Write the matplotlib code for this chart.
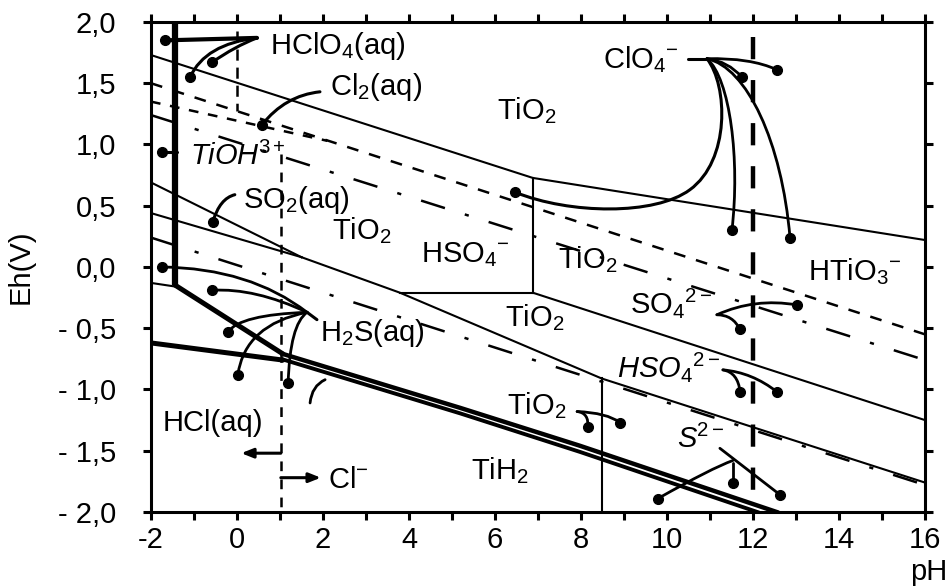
import matplotlib
matplotlib.use('Agg')
import matplotlib.pyplot as plt
from matplotlib.path import Path
from matplotlib.patches import PathPatch

plt.rcParams['font.family'] = ['Liberation Sans', 'DejaVu Sans']
plt.rcParams['mathtext.fontset'] = 'custom'
plt.rcParams['mathtext.rm'] = 'Liberation Sans'
plt.rcParams['mathtext.it'] = 'Liberation Sans:italic'
plt.rcParams['mathtext.bf'] = 'Liberation Sans:bold'
plt.rcParams['lines.scale_dashes'] = False

# ---------------- axes data ----------------
x_limits = (-2, 16)
y_limits = (-2, 2)
x_ticks = list(range(-2, 17))
x_tick_labels = ['-2', '', '0', '', '2', '', '4', '', '6', '', '8', '', '10', '', '12', '', '14', '', '16']
y_ticks = [2.0, 1.5, 1.0, 0.5, 0.0, -0.5, -1.0, -1.5, -2.0]
y_tick_labels = ['2,0', '1,5', '1,0', '0,5', '0,0', '- 0,5', '- 1,0', '- 1,5', '- 2,0']

# ---------------- solid boundaries (pH, Eh) ----------------
upper_x = [-2, 6.88, 16];            upper_y = [1.73, 0.727, 0.22]
hso4_vert_x = [6.88, 6.88];          hso4_vert_y = [0.727, -0.21]
hso4_horiz_x = [3.79, 6.88];         hso4_horiz_y = [-0.21, -0.21]
mid_x = [6.88, 16];                  mid_y = [-0.21, -1.25]
so2_a_x = [-2, 1.5];                 so2_a_y = [0.69, 0.08]
so2_b_x = [-2, 1.5];                 so2_b_y = [0.44, 0.08]
low_x = [1.5, 3.79, 8.48, 16];       low_y = [0.08, -0.21, -0.91, -1.76]
v85_x = [8.48, 8.48];                v85_y = [-0.91, -2.0]
box_x = [-2, -1.43];                 box_y = [-0.13, -0.16]

# thick boundaries
ti_vert_x = [-1.43, -1.43];          ti_vert_y = [2.0, -0.15]
ti_diag_x = [-1.43, 1.07];           ti_diag_y = [-0.15, -0.71]
ti_left_x = [-2, 1.07];              ti_left_y = [-0.62, -0.76]
dbl_up_x = [1.07, 5.19, 7.98, 12.55]; dbl_up_y = [-0.71, -1.15, -1.46, -2.0]
dbl_lo_x = [1.07, 5.19, 7.98, 12.1];  dbl_lo_y = [-0.755, -1.195, -1.51, -2.0]

# dashed lines
o2_x = [-2, 16];                     o2_y = [1.50, -0.55]
cl_x = [-2, 2.1];                    cl_y = [1.35, 1.03]
s_up_x = [-2, 16];                   s_up_y = [1.24, -0.76]
h2_x = [-2, 16];                     h2_y = [0.24, -1.78]
hclo4_x = [0.0, 0.0];                hclo4_y = [1.93, 1.27]
hcl_x = [1.02, 1.02];                hcl_y = [0.92, -2.0]
ph12_x = [12.0, 12.0];               ph12_y = [1.88, -2.0]

# labels: (text, x, y, ha, italic)
labels = [
    ('HClO$_4$(aq)', 0.77, 1.80, 'left', False),
    ('Cl$_2$(aq)', 2.16, 1.47, 'left', False),
    ('TiO$_2$', 6.74, 1.28, 'center', False),
    ('ClO$_4$$^{-}$', 8.51, 1.69, 'left', False),
    ('TiOH$^{3+}$', -1.09, 0.90, 'left', True),
    ('SO$_2$(aq)', 0.14, 0.55, 'left', False),
    ('TiO$_2$', 2.91, 0.30, 'center', False),
    ('HSO$_4$$^{-}$', 5.30, 0.10, 'center', False),
    ('TiO$_2$', 8.16, 0.06, 'center', False),
    ('HTiO$_3$$^{-}$', 14.37, -0.04, 'center', False),
    ('SO$_4$$^{2-}$', 9.14, -0.29, 'left', False),
    ('TiO$_2$', 6.93, -0.41, 'center', False),
    ('H$_2$S(aq)', 1.93, -0.54, 'left', False),
    ('HSO$_4$$^{2-}$', 8.84, -0.82, 'left', True),
    ('TiO$_2$', 6.98, -1.13, 'center', False),
    ('HCl(aq)', -1.74, -1.27, 'left', False),
    ('S$^{2-}$', 10.23, -1.41, 'left', True),
    ('Cl$^{-}$', 2.12, -1.74, 'left', False),
    ('TiH$_2$', 6.12, -1.66, 'center', False),
]

# leader curves: list of control points (2 = line, 3 = quadratic, 4/7 = cubic), dot at end
leaders = [
    ([(0.465, 1.87), (-1.67, 1.85)], True, 3.0),
    ([(0.465, 1.87), (-0.05, 1.80), (-0.58, 1.67)], True, 2.2),
    ([(0.465, 1.87), (-0.74, 1.82), (-1.09, 1.55)], True, 2.2),
    ([(1.93, 1.43), (1.12, 1.40), (0.58, 1.16)], True, 2.2),
    ([(-1.40, 0.94), (-1.74, 0.94)], True, 2.2),
    ([(-0.05, 0.59), (-0.40, 0.56), (-0.56, 0.37)], True, 2.2),
    ([(1.86, -0.43), (1.63, -0.37)], False, 2.2),
    ([(1.63, -0.37), (0.30, -0.01), (-1.74, 0.0)], True, 2.0),
    ([(1.63, -0.37), (0.42, -0.17), (-0.58, -0.19)], True, 2.0),
    ([(1.63, -0.37), (0.07, -0.39), (-0.21, -0.53)], True, 2.0),
    ([(1.63, -0.37), (0.19, -0.47), (0.02, -0.88)], True, 2.0),
    ([(1.63, -0.37), (1.23, -0.47), (1.19, -0.95)], True, 2.0),
    ([(2.05, -0.92), (1.74, -0.97), (1.70, -1.11)], False, 2.0),
    ([(7.91, -1.18), (8.19, -1.19), (8.16, -1.31)], True, 2.0),
    ([(7.91, -1.18), (8.60, -1.19), (8.91, -1.27)], True, 2.0),
    ([(10.49, 1.70), (10.93, 1.70)], False, 2.2),
    ([(10.93, 1.70), (11.93, 1.71), (12.56, 1.61)], True, 2.0),
    ([(10.93, 1.70), (11.42, 1.68), (11.74, 1.55)], True, 2.0),
    ([(10.93, 1.70), (11.42, 1.48), (11.47, 0.87), (10.53, 0.63),
      (9.72, 0.42), (7.74, 0.43), (6.47, 0.61)], True, 2.2),
    ([(10.93, 1.70), (11.47, 1.54), (11.70, 0.87), (11.51, 0.30)], True, 2.0),
    ([(10.93, 1.70), (11.86, 1.63), (12.67, 1.02), (12.86, 0.24)], True, 2.0),
    ([(11.16, -0.39), (12.05, -0.25), (13.02, -0.31)], True, 2.0),
    ([(11.16, -0.39), (11.53, -0.39), (11.70, -0.51)], True, 2.0),
    ([(11.30, -0.84), (11.65, -0.86), (11.70, -1.02)], True, 2.0),
    ([(11.30, -0.84), (11.98, -0.86), (12.56, -1.02)], True, 2.0),
    ([(11.23, -1.48), (12.63, -1.86)], True, 2.0),
    ([(11.53, -1.58), (11.05, -1.64), (9.79, -1.89)], True, 2.0),
    ([(11.53, -1.60), (11.53, -1.76)], True, 2.0),
]

# arrows (HCl / Cl- field indicators)
arrows = [((1.02, -1.52), (0.10, -1.52)), ((1.02, -1.72), (1.95, -1.72))]

# ---------------- figure ----------------
fig = plt.figure(figsize=(9.5, 5.86), dpi=100)
ax = fig.add_axes([0.1589, 0.1263, 0.8148, 0.8362])
ax.set_xlim(*x_limits)
ax.set_ylim(*y_limits)

k = 'black'
thin = 1.5
for xs, ys in [(upper_x, upper_y), (hso4_vert_x, hso4_vert_y), (hso4_horiz_x, hso4_horiz_y),
               (mid_x, mid_y), (so2_a_x, so2_a_y), (so2_b_x, so2_b_y), (low_x, low_y),
               (v85_x, v85_y), (box_x, box_y)]:
    ax.plot(xs, ys, color=k, lw=thin, solid_joinstyle='miter')

ax.plot(ti_vert_x, ti_vert_y, color=k, lw=4.5, solid_capstyle='butt')
ax.plot(ti_diag_x, ti_diag_y, color=k, lw=3.6, solid_capstyle='round')
ax.plot(ti_left_x, ti_left_y, color=k, lw=3.6, solid_capstyle='round')
ax.plot(dbl_up_x, dbl_up_y, color=k, lw=3.2)
ax.plot(dbl_lo_x, dbl_lo_y, color=k, lw=2.8)

ax.plot(o2_x, o2_y, color=k, lw=1.8, dashes=(8.5, 8.0))
ax.plot(cl_x, cl_y, color=k, lw=1.8, dashes=(7.0, 7.0))
ax.plot(s_up_x, s_up_y, color=k, lw=1.8, dashes=(18, 15, 3, 15))
ax.plot(h2_x, h2_y, color=k, lw=1.8, dashes=(18, 15, 3, 15))
ax.plot(hclo4_x, hclo4_y, color=k, lw=1.8, dashes=(8, 5))
ax.plot(hcl_x, hcl_y, color=k, lw=1.8, dashes=(7, 6))
ax.plot(ph12_x, ph12_y, color=k, lw=3.2, dashes=(16, 15))

for txt, x, y, ha, it in labels:
    ax.text(x, y, txt, ha=ha, va='center', fontsize=21,
            fontstyle='italic' if it else 'normal', color=k)

for pts, dot, lw in leaders:
    n = len(pts)
    if n == 2:
        codes = [Path.MOVETO, Path.LINETO]
    elif n == 3:
        codes = [Path.MOVETO, Path.CURVE3, Path.CURVE3]
    else:
        codes = [Path.MOVETO] + [Path.CURVE4] * (n - 1)
    ax.add_patch(PathPatch(Path(pts, codes), fill=False, ec=k, lw=lw, capstyle='round'))
    if dot:
        ax.plot([pts[-1][0]], [pts[-1][1]], 'o', color=k, ms=7)

for start, end in arrows:
    ax.annotate('', xy=end, xytext=start,
                arrowprops=dict(arrowstyle='-|>,head_length=0.7,head_width=0.28',
                                lw=2.2, color=k, shrinkA=0, shrinkB=0))

# frame and ticks
for s in ax.spines.values():
    s.set_linewidth(2.2)
ax.set_xticks(x_ticks)
ax.set_xticklabels(x_tick_labels)
ax.set_yticks(y_ticks)
ax.set_yticklabels(y_tick_labels)
ax.tick_params(axis='both', which='major', direction='out', length=6, width=2.2,
               labelsize=21, top=True, right=True, labeltop=False, labelright=False)
ax.tick_params(axis='x', pad=4)
ax.tick_params(axis='y', pad=19)

fig.text(0.9975, 0.0, 'pH', ha='right', va='bottom', fontsize=21)
fig.text(0.022, 0.545, 'Eh(V)', ha='center', va='center', rotation=90, fontsize=21)

fig.savefig('out.png', dpi=100)
